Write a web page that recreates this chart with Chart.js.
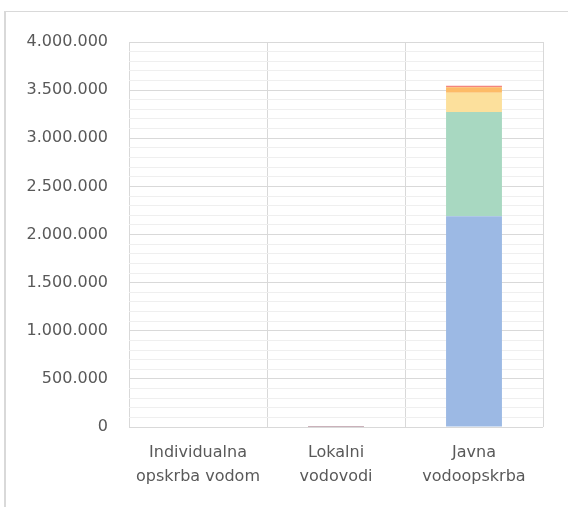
<!DOCTYPE html>
<html>
<head>
<meta charset="utf-8">
<script src="https://cdn.jsdelivr.net/npm/chart.js@4"></script>
<style>
    html, body { margin: 0; padding: 0; background: #fff; }
    #wrap { position: relative; width: 568px; height: 507px; }
    #frame { position: absolute; left: 4px; top: 11px; right: 0; bottom: 0;
             border-left: 2px solid #d9d9d9; border-top: 1px solid #d9d9d9; }
    canvas { position: absolute; left: 0; top: 0; }
</style>
</head>
<body>
<div id="wrap">
    <div id="frame"></div>
    <canvas id="chart" width="568" height="507"></canvas>
</div>
<script>
// categories (x axis)
const categories = [
    ['Individualna', 'opskrba vodom'],
    ['Lokalni', 'vodovodi'],
    ['Javna', 'vodoopskrba']
];

// stacked series, bottom to top
const serija1 = [0, 500, 2190000];
const serija2 = [0, 300, 1083000];
const serija3 = [0, 300, 200000];
const serija4 = [0, 300, 56000];
const serija5 = [0, 10000, 17000];

const seriesNames = ['Serija 1', 'Serija 2', 'Serija 3', 'Serija 4', 'Serija 5'];
const seriesColors = ['#9cb9e4', '#a8d8c1', '#fce09c', '#fdbb67', '#f4857e'];

const yMax = 4000000;
const yStep = 100000;
const yLabelStep = 500000;

function formatNum(v) {
    return v.toString().replace(/\B(?=(\d{3})+(?!\d))/g, '.');
}

const ctx = document.getElementById('chart').getContext('2d');
const chart = new Chart(ctx, {
    type: 'bar',
    data: {
        labels: categories,
        datasets: [serija1, serija2, serija3, serija4, serija5].map(function(d, i) {
            return {
                label: seriesNames[i],
                data: d,
                backgroundColor: seriesColors[i],
                borderWidth: 0,
                barPercentage: 0.405,
                categoryPercentage: 1
            };
        })
    },
    options: {
        responsive: false,
        animation: false,
        layout: { padding: { left: 0, top: 42, right: 25, bottom: 0 } },
        plugins: {
            legend: { display: false },
            tooltip: { enabled: false }
        },
        scales: {
            x: {
                stacked: true,
                grid: { color: '#d9d9d9', lineWidth: 1, drawTicks: false, offset: true },
                border: { display: false },
                ticks: {
                    color: '#595959',
                    font: { family: 'DejaVu Sans', size: 16, lineHeight: 1.55 },
                    padding: 13,
                    maxRotation: 0
                },
                afterFit: function(scale) { scale.height = 80; }
            },
            y: {
                stacked: true,
                min: 0,
                max: yMax,
                border: { display: false },
                grid: {
                    drawTicks: false,
                    lineWidth: 1,
                    color: function(c) {
                        return c.tick && c.tick.value % yLabelStep === 0 ? '#d9d9d9' : '#efefef';
                    }
                },
                ticks: {
                    stepSize: yStep,
                    autoSkip: false,
                    color: '#595959',
                    font: { family: 'DejaVu Sans', size: 16 },
                    padding: 21,
                    callback: function(v) {
                        return v % yLabelStep === 0 ? formatNum(v) : '';
                    }
                },
                afterFit: function(scale) { scale.width = 129; }
            }
        }
    }
});
</script>
</body>
</html>
